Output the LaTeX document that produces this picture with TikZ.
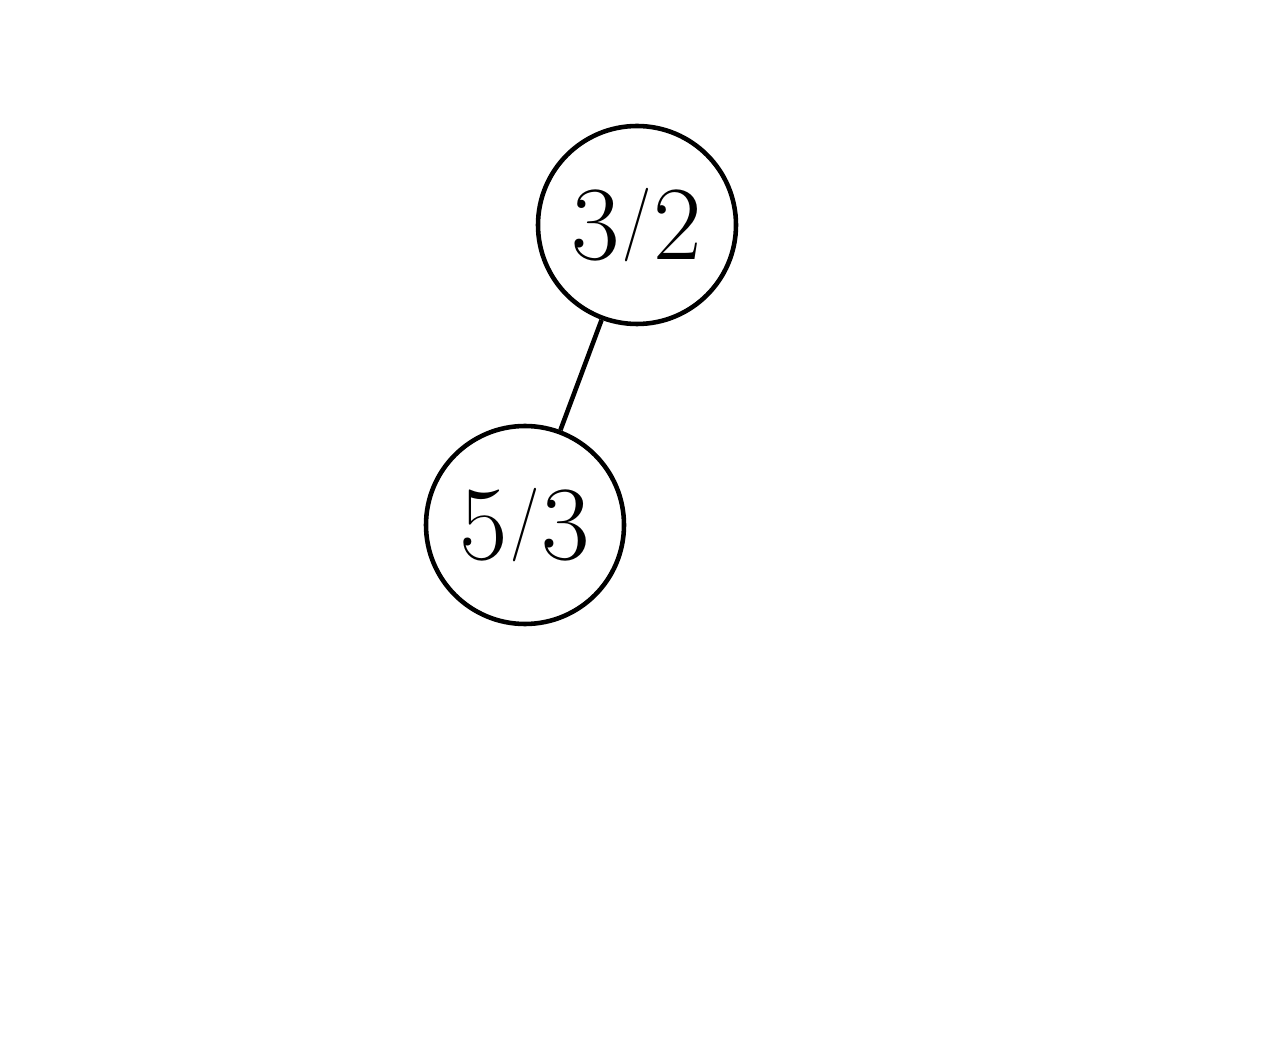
\documentclass[tikz,border=0pt]{standalone}
\usepackage{fontspec}
\usepackage{graphicx}
\newfontfamily\numfont{Latin Modern Roman}
\newcommand\fracsl{\kern0.02em\raisebox{0.155em}{\scalebox{0.6}[0.7]{/}}\kern0.02em}
\begin{document}
\begin{tikzpicture}[x=0.02cm,y=-0.02cm,
  treenode/.style={circle,draw,line width=2.6pt,minimum size={198*0.02cm},inner sep=0pt,font=\numfont\fontsize{60}{66}\selectfont},
  edgeline/.style={line width=2.6pt}]
\useasboundingbox (0,0) rectangle (1275,1050);
\node[treenode] (a) at (637,225) {3\fracsl2};
\node[treenode] (b) at (525,525) {5\fracsl3};
\draw[edgeline] (a) -- (b);
\end{tikzpicture}
\end{document}
